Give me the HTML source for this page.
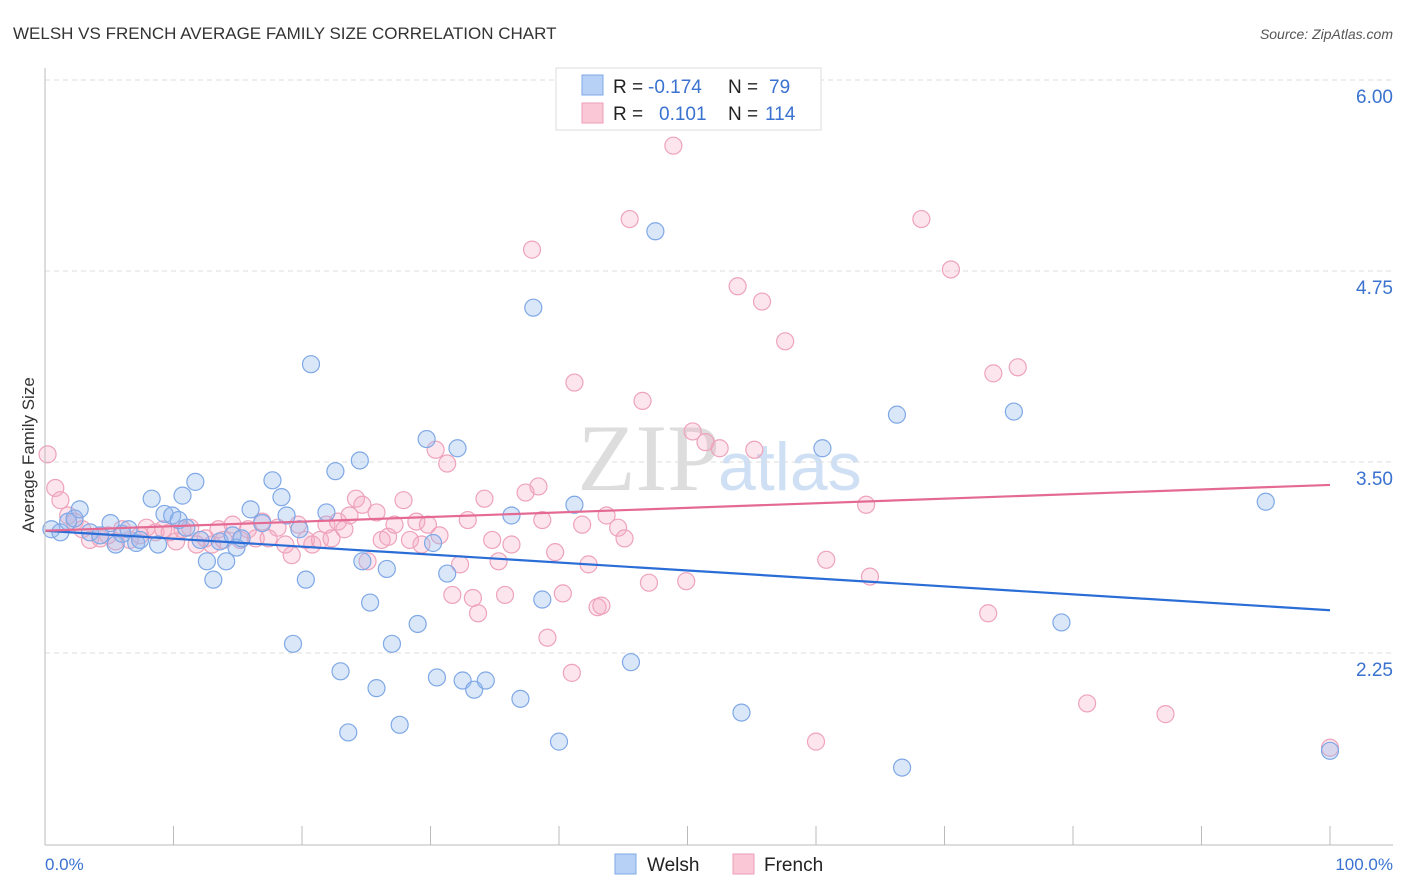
<!DOCTYPE html>
<html><head><meta charset="utf-8">
<style>
body{margin:0;background:#fff;font-family:"Liberation Sans",sans-serif;}
#wrap{position:relative;width:1406px;height:892px;overflow:hidden;}
</style></head>
<body>
<div id="wrap">
<svg id="svg" width="1406" height="892" xmlns="http://www.w3.org/2000/svg">
<text x="13" y="39" font-size="17" fill="#333">WELSH VS FRENCH AVERAGE FAMILY SIZE CORRELATION CHART</text>
<text x="1393" y="39" font-size="14" fill="#555" font-style="italic" text-anchor="end">Source: ZipAtlas.com</text>
<text x="720" y="490" font-size="95" fill="#ddd" text-anchor="end" font-family="Liberation Serif">ZIP</text>
<text x="718" y="490" font-size="68" fill="#cfe0f5">atlas</text>
<text x="34" y="455" font-size="17" fill="#333" transform="rotate(-90 34 455)" text-anchor="middle">Average Family Size</text>
<g id="grid"></g><g id="pts"></g><g id="lines"></g>
<line x1="45" y1="68" x2="45" y2="845" stroke="#bbb"/>
<line x1="45" y1="845" x2="1393" y2="845" stroke="#bbb"/>
<text x="45" y="870" font-size="17" fill="#3a72d0">0.0%</text>
<text x="1393" y="870" font-size="17" fill="#3a72d0" text-anchor="end">100.0%</text>
<g>
<rect x="556" y="68" width="265" height="62" fill="#fff" stroke="#ddd"/>
<rect x="582" y="75" width="21" height="20" fill="#b7d0f5" stroke="#7fa8e6"/>
<rect x="582" y="103" width="21" height="20" fill="#f9c7d6" stroke="#ee9db8"/>
<text x="613" y="93" font-size="19" fill="#222">R = </text><text x="648" y="93" font-size="19" fill="#3a72d0">-0.174</text>
<text x="728" y="93" font-size="19" fill="#222">N = </text><text x="769" y="93" font-size="19" fill="#3a72d0">79</text>
<text x="613" y="120" font-size="19" fill="#222">R = </text><text x="659" y="120" font-size="19" fill="#3a72d0">0.101</text>
<text x="728" y="120" font-size="19" fill="#222">N = </text><text x="765" y="120" font-size="19" fill="#3a72d0">114</text>
</g>
<g>
<rect x="615" y="854" width="21" height="20" fill="#b7d0f5" stroke="#7fa8e6"/>
<text x="647" y="871" font-size="19" fill="#222">Welsh</text>
<rect x="733" y="854" width="21" height="20" fill="#f9c7d6" stroke="#ee9db8"/>
<text x="764" y="871" font-size="19" fill="#222">French</text>
</g>
</svg>
</div>
<script>
const yTicks=[2.25,3.5,4.75,6.0];
const yTickLabels=["2.25","3.50","4.75","6.00"];
const xTicks=[0,10,20,30,40,50,60,70,80,90,100];
const welshX=[0.5,1.2,1.8,2.3,2.7,3.5,4.3,5.1,5.5,6.0,6.5,7.1,7.4,8.3,8.8,9.3,9.9,10.4,10.7,11.0,11.7,12.1,12.6,13.1,13.6,14.1,14.6,14.9,15.3,16.0,16.9,17.7,18.4,18.8,19.3,19.8,20.3,20.7,21.9,22.6,23.0,23.6,24.5,24.7,25.3,25.8,26.6,27.0,27.6,29.0,29.7,30.2,30.5,31.3,32.1,32.5,33.4,34.3,36.3,37.0,38.0,38.7,40.0,41.2,45.6,47.5,54.2,60.5,66.3,66.7,75.4,79.1,95.0,100];
const welshY=[3.06,3.04,3.11,3.13,3.19,3.04,3.02,3.10,2.96,3.03,3.06,2.97,2.99,3.26,2.96,3.16,3.15,3.12,3.28,3.07,3.37,2.99,2.85,2.73,2.98,2.85,3.02,2.94,3.00,3.19,3.10,3.38,3.27,3.15,2.31,3.06,2.73,4.14,3.17,3.44,2.13,1.73,3.51,2.85,2.58,2.02,2.80,2.31,1.78,2.44,3.65,2.97,2.09,2.77,3.59,2.07,2.01,2.07,3.15,1.95,4.51,2.60,1.67,3.22,2.19,5.01,1.86,3.59,3.81,1.50,3.83,2.45,3.24,1.61];
const frenchX=[0.2,0.8,1.2,1.8,2.3,2.9,3.5,4.3,4.9,5.5,6.0,6.6,7.4,7.9,8.6,9.2,9.7,10.2,10.7,11.3,11.8,12.5,13.0,13.5,13.9,14.6,15.2,15.8,16.4,16.9,17.4,18.1,18.7,19.2,19.7,20.3,20.8,21.4,21.9,22.3,22.8,23.3,23.7,24.2,24.7,25.1,25.8,26.2,26.7,27.2,27.9,28.4,28.9,29.3,29.8,30.4,30.7,31.3,31.7,32.3,32.9,33.3,33.7,34.2,34.8,35.3,35.8,36.3,37.4,37.9,38.4,38.7,39.1,39.7,40.3,41.0,41.2,41.8,42.3,43.0,43.3,43.7,44.6,45.1,45.5,46.5,47.0,48.9,49.9,50.4,51.4,52.5,53.9,55.2,55.8,57.6,60.0,60.8,63.9,64.2,68.2,70.5,73.4,73.8,75.7,81.1,87.2,100];
const frenchY=[3.55,3.33,3.25,3.15,3.11,3.06,2.99,3.00,3.02,2.98,3.06,2.99,3.02,3.07,3.04,3.06,3.04,2.98,3.06,3.07,2.96,3.00,2.96,3.06,2.99,3.09,2.99,3.06,3.00,3.11,3.00,3.07,2.96,2.89,3.09,2.99,2.96,2.99,3.09,3.00,3.11,3.06,3.15,3.26,3.22,2.85,3.17,2.99,3.01,3.09,3.25,2.99,3.11,2.96,3.09,3.58,3.02,3.49,2.63,2.83,3.12,2.61,2.51,3.26,2.99,2.85,2.63,2.96,3.30,4.89,3.34,3.12,2.35,2.91,2.64,2.12,4.02,3.09,2.83,2.55,2.56,3.15,3.07,3.00,5.09,3.90,2.71,5.57,2.72,3.70,3.63,3.59,4.65,3.58,4.55,4.29,1.67,2.86,3.22,2.75,5.09,4.76,2.51,4.08,4.12,1.92,1.85,1.63];
const welshTrend=[3.05,2.53];
const frenchTrend=[3.05,3.35];

const NS="http://www.w3.org/2000/svg";
function sx(v){return 45+v*12.85;}
function sy(v){return 462-(v-3.5)*152.8;}
function mk(tag,attrs,parent){const e=document.createElementNS(NS,tag);for(const k in attrs)e.setAttribute(k,attrs[k]);parent.appendChild(e);return e;}
const grid=document.getElementById('grid'),pts=document.getElementById('pts'),lines=document.getElementById('lines');
yTicks.forEach((t,i)=>{
 const l=mk('line',{x1:45,x2:1393,y1:sy(t),y2:sy(t),stroke:'#ddd','stroke-dasharray':'5,4'},grid);
 
 
 const tx=mk('text',{x:1393,y:sy(t)+23,'font-size':19,fill:'#3a72d0','text-anchor':'end'},grid);
 tx.textContent=yTickLabels[i];
 
 
});
xTicks.forEach(t=>{
 const l=mk('line',{x1:sx(t),x2:sx(t),y1:826,y2:845,stroke:'#bbb'},grid);
 
 
});
frenchX.forEach((x,i)=>{
 const c=mk('circle',{cx:sx(x),cy:sy(frenchY[i]),r:8.5,fill:'rgba(244,170,195,0.3)',stroke:'#eea3bb','stroke-width':1.2},pts);
 
 
});
welshX.forEach((x,i)=>{
 const c=mk('circle',{cx:sx(x),cy:sy(welshY[i]),r:8.5,fill:'rgba(150,185,238,0.35)',stroke:'#7fa8e6','stroke-width':1.2},pts);
 
 
});
const wl=mk('line',{x1:sx(0),x2:sx(100),y1:sy(welshTrend[0]),y2:sy(welshTrend[1]),stroke:'#2a6dd6','stroke-width':2.2},lines);


const fl=mk('line',{x1:sx(0),x2:sx(100),y1:sy(frenchTrend[0]),y2:sy(frenchTrend[1]),stroke:'#e46a94','stroke-width':2.2},lines);


</script>
</body></html>
